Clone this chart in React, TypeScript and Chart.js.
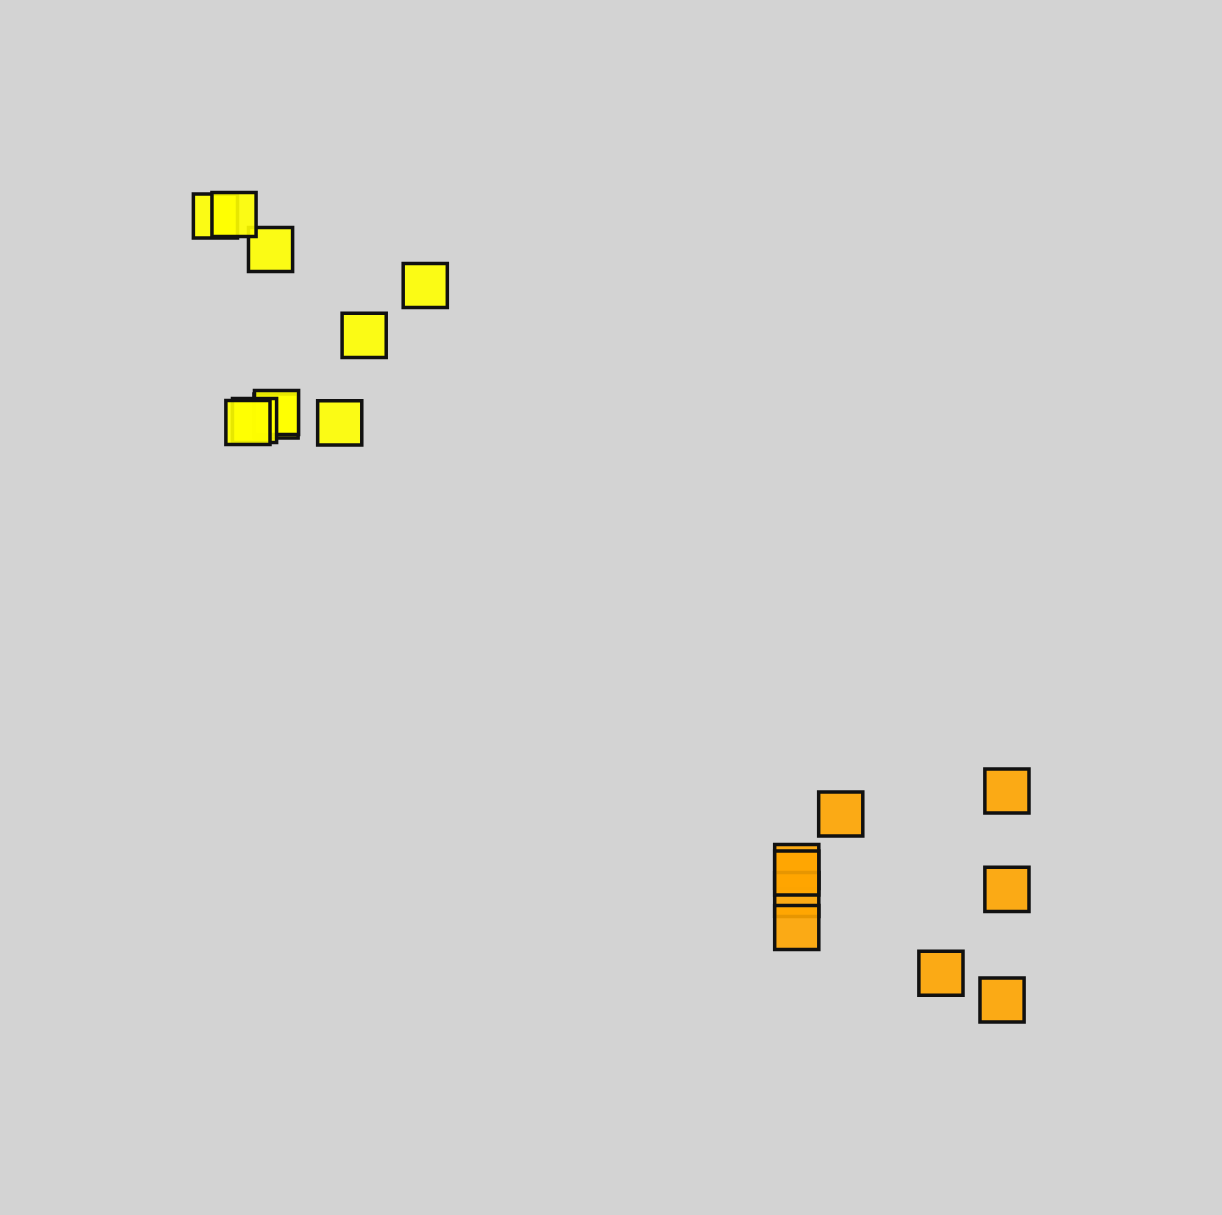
import React, { useEffect, useRef } from "react";
import { Chart, registerables } from "chart.js";

Chart.register(...registerables);

const yellowX = [1.763, 2.214, 1.915, 3.48, 2.98, 2.259, 2.263, 2.083, 2.029, 2.78];
const yellowY = [8.222, 7.947, 8.235, 7.65, 7.24, 6.576, 6.605, 6.539, 6.523, 6.52];
const orangeX = [6.88, 8.24, 8.24, 7.7, 8.2, 6.52, 6.52, 6.52, 6.52];
const orangeY = [3.3, 3.49, 2.68, 1.99, 1.77, 2.868, 2.638, 2.815, 2.366];

const W = 1222;
const H = 1215;

export default function App() {
  const ref = useRef<HTMLCanvasElement | null>(null);

  useEffect(() => {
    document.body.style.margin = "0";
    document.body.style.background = "#d3d3d3";
    const canvas = ref.current;
    if (!canvas) return;
    const toPts = (xs: number[], ys: number[]) => xs.map((x, i) => ({ x, y: ys[i] }));
    const chart = new Chart(canvas, {
      type: "scatter",
      data: {
        datasets: [
          {
            label: "A",
            data: toPts(yellowX, yellowY),
            pointStyle: "rect",
            pointRadius: 31.2,
            pointHoverRadius: 31.2,
            backgroundColor: "rgba(255,255,0,0.9)",
            borderColor: "#111111",
            borderWidth: 3.5,
          },
          {
            label: "B",
            data: toPts(orangeX, orangeY),
            pointStyle: "rect",
            pointRadius: 31.2,
            pointHoverRadius: 31.2,
            backgroundColor: "rgba(255,165,0,0.9)",
            borderColor: "#111111",
            borderWidth: 3.5,
          },
        ],
      },
      options: {
        animation: false,
        responsive: false,
        layout: { padding: 0, autoPadding: false },
        plugins: { legend: { display: false }, tooltip: { enabled: false } },
        scales: {
          x: { type: "linear", min: 0, max: 10, display: false },
          y: { type: "linear", min: 0, max: 10, display: false },
        },
      },
    });
    return () => chart.destroy();
  }, []);

  return (
    <div style={{ width: W, height: H, background: "#d3d3d3" }}>
      <canvas ref={ref} width={W} height={H} style={{ display: "block" }} />
    </div>
  );
}
